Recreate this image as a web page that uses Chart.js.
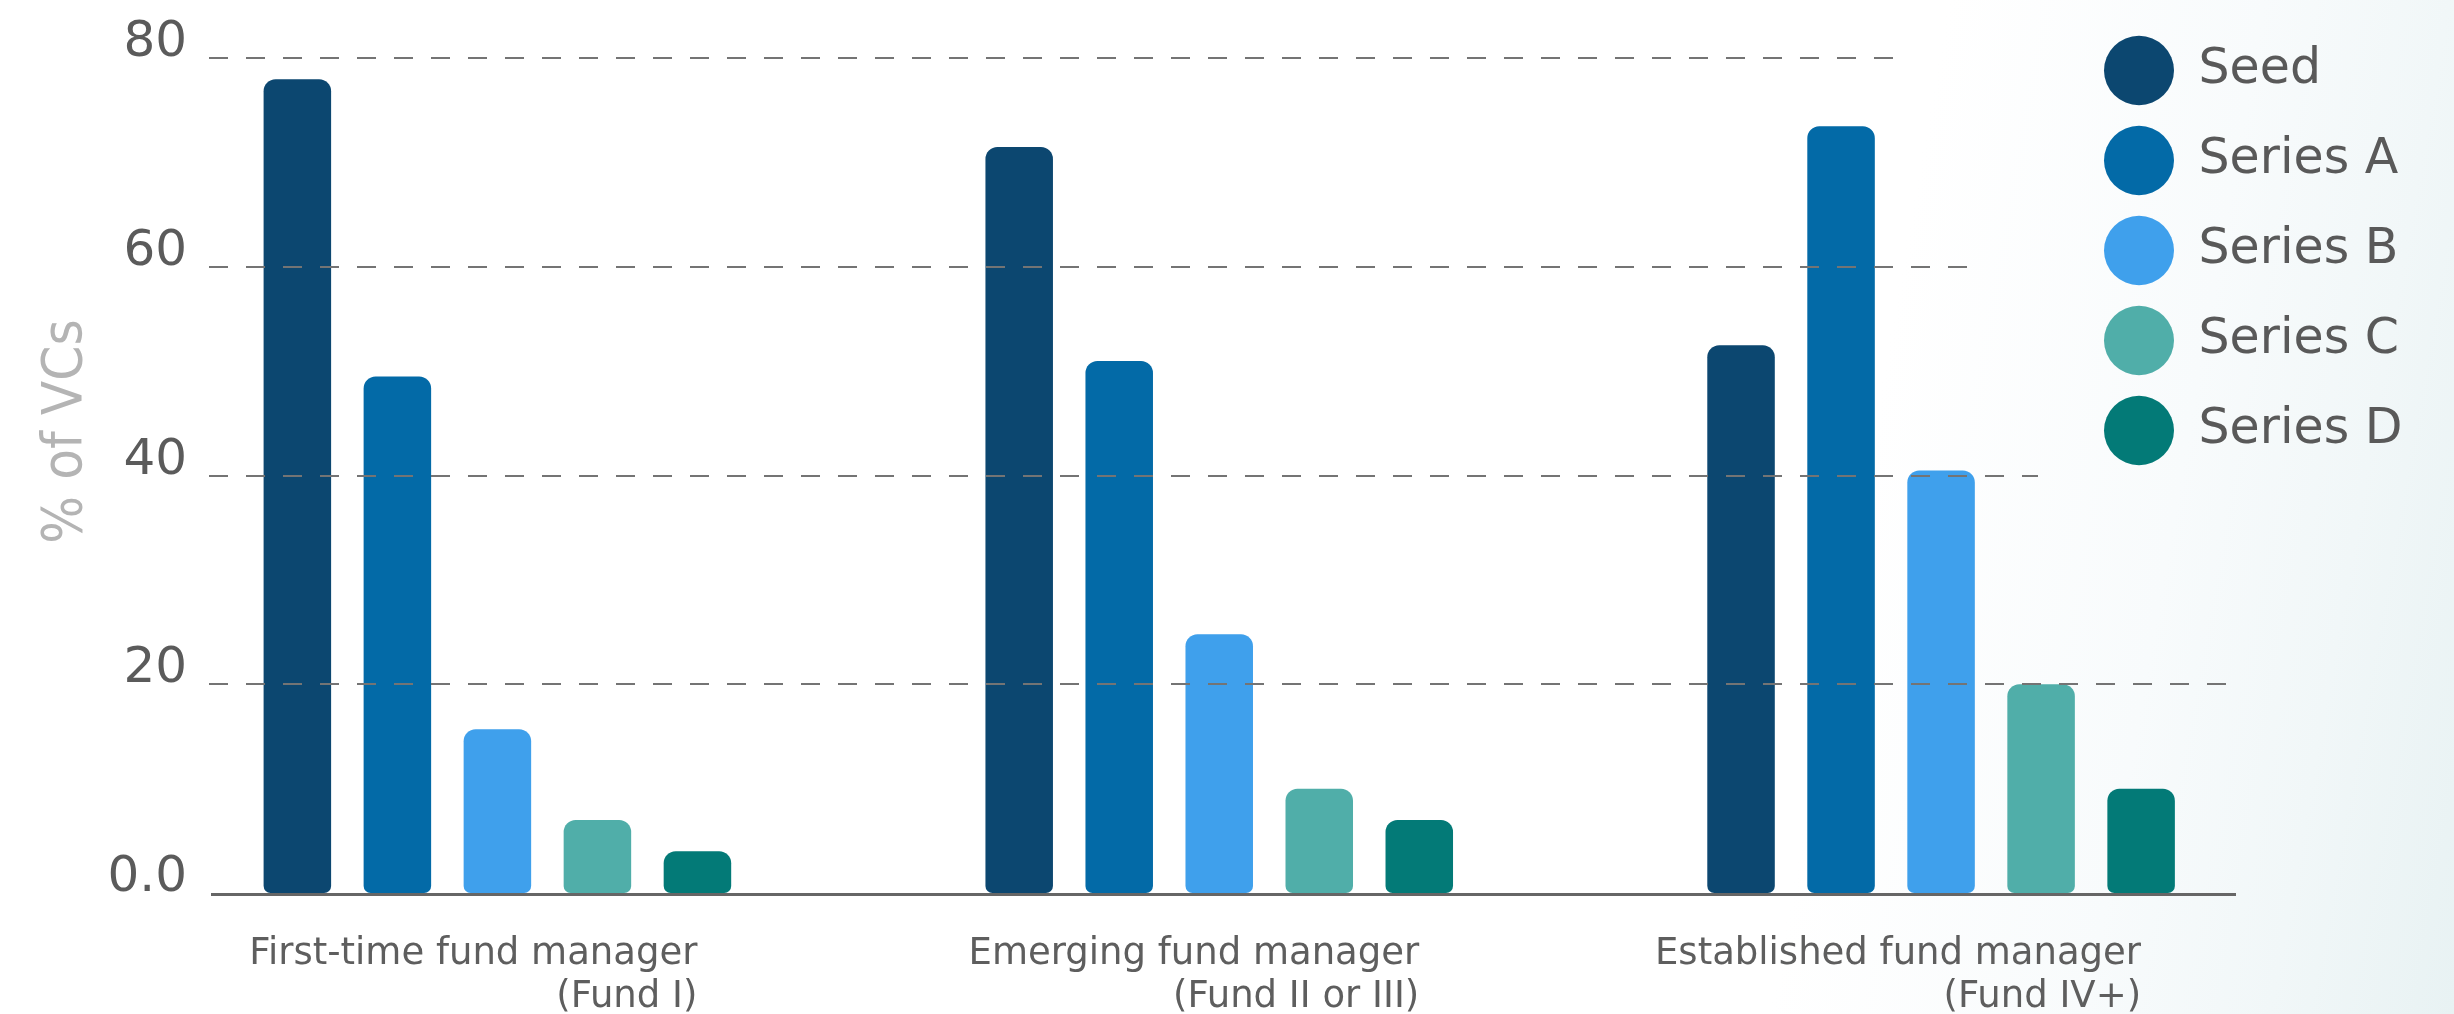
<!DOCTYPE html>
<html>
<head>
<meta charset="utf-8">
<title>% of VCs by fund manager stage</title>
<script src="https://cdn.jsdelivr.net/npm/chart.js@4.4.1/dist/chart.umd.min.js"></script>
<style>
  html, body { margin: 0; padding: 0; }
  body {
    width: 2454px; height: 1014px; overflow: hidden;
    background: linear-gradient(100deg, #ffffff 0%, #ffffff 74%, #f8fbfc 86%, #f1f7f8 93%, #e8f2f3 100%);
  }
  canvas { display: block; }
</style>
</head>
<body>
<canvas id="chart" width="2454" height="1014"></canvas>
<script>
// Fund manager stages (two-line axis labels)
const categories = [
  ['First-time fund manager', '(Fund I)'],
  ['Emerging fund manager', '(Fund II or III)'],
  ['Established fund manager', '(Fund IV+)']
];

// Share of VCs investing at each round, per stage (%)
const seriesNames = ['Seed', 'Series A', 'Series B', 'Series C', 'Series D'];
const seed    = [78, 71.5, 52.5];
const seriesA = [49.5, 51, 73.5];
const seriesB = [15.7, 24.8, 40.5];
const seriesC = [7, 10, 20];
const seriesD = [4, 7, 10];

// Y axis tick values and their printed labels
const yTickValues = [0, 20, 40, 60, 80];
const yTickLabels = ['0.0', '20', '40', '60', '80'];

const seriesColors = ['#0c4770', '#036aa7', '#3fa0ec', '#50aea9', '#037a77'];
const seriesValues = [seed, seriesA, seriesB, seriesC, seriesD];

Chart.defaults.font.family = "'DejaVu Sans', sans-serif";

// Dashed horizontal rules (drawn over the bars, each ending short of the legend)
// plus the solid baseline.
const ruleStartX = 209;
const ruleEndX = { 20: 2237, 40: 2038, 60: 1985, 80: 1908 };
const axisRules = {
  id: 'axisRules',
  afterDatasetsDraw(chart) {
    const { ctx } = chart;
    const y = chart.scales.y;
    ctx.save();
    ctx.lineWidth = 2;
    ctx.strokeStyle = '#747474';
    ctx.setLineDash([19, 18]);
    yTickValues.forEach(v => {
      if (v === 0) return;
      const py = Math.round(y.getPixelForValue(v));
      ctx.beginPath();
      ctx.moveTo(ruleStartX, py);
      ctx.lineTo(ruleEndX[v], py);
      ctx.stroke();
    });
    ctx.setLineDash([]);
    ctx.lineWidth = 3;
    ctx.strokeStyle = '#666666';
    const by = y.getPixelForValue(0) + 1.5;
    ctx.beginPath();
    ctx.moveTo(211, by);
    ctx.lineTo(2236, by);
    ctx.stroke();
    ctx.restore();
  }
};

// Legend sits in the upper-right corner over the plot area; the y-axis title
// is centred a little above the middle of the axis.
const layoutTweaks = {
  id: 'layoutTweaks',
  afterLayout(chart) {
    const lg = chart.legend;
    if (lg) {
      const w = lg.width, h = lg.height;
      lg.left = 2063; lg.right = 2063 + w;
      lg.top = 5; lg.bottom = 5 + h;
    }
    const y = chart.scales.y;
    if (y) y.top -= 30;
  }
};

new Chart(document.getElementById('chart'), {
  type: 'bar',
  data: {
    datasets: seriesNames.map((name, i) => ({
      label: name,
      data: seriesValues[i].map((v, k) => ({ x: k, y: v })),
      backgroundColor: seriesColors[i],
      borderColor: seriesColors[i],
      borderWidth: 0,
      borderSkipped: false,
      borderRadius: { topLeft: 12, topRight: 12, bottomLeft: 7, bottomRight: 7 }
    }))
  },
  options: {
    responsive: false,
    animation: false,
    devicePixelRatio: 1,
    layout: { padding: { left: 31, right: 152, top: 0, bottom: 0 } },
    datasets: { bar: { categoryPercentage: 0.6928, barPercentage: 0.675 } },
    plugins: {
      tooltip: { enabled: false },
      legend: {
        position: 'chartArea',
        align: 'start',
        labels: {
          usePointStyle: true,
          pointStyle: 'circle',
          pointStyleWidth: 70,
          boxHeight: 49.5,
          padding: 41,
          color: '#595959',
          font: { size: 49 }
        }
      }
    },
    scales: {
      x: {
        type: 'linear',
        min: -0.43,
        max: 2.5,
        offset: false,
        grid: { display: false, drawTicks: false },
        border: { display: false },
        ticks: {
          stepSize: 1,
          includeBounds: false,
          align: 'end',
          labelOffset: 200,
          padding: 40,
          maxRotation: 0,
          autoSkip: false,
          color: '#5e5e5e',
          font: { size: 37, lineHeight: '43px' },
          callback: (value) => categories[value] || ''
        },
        afterFit(scale) {
          scale.height = 121;
          scale.paddingLeft = 0;
          scale.paddingRight = 0;
        }
      },
      y: {
        min: 0,
        max: 85.6,
        grid: { display: false, drawTicks: false },
        border: { display: false },
        ticks: {
          stepSize: 20,
          includeBounds: false,
          padding: 0,
          labelOffset: -15,
          color: '#5b5b5b',
          font: { size: 50 },
          callback: (value) => {
            const idx = yTickValues.indexOf(value);
            return idx >= 0 ? yTickLabels[idx] : '';
          }
        },
        title: {
          display: true,
          text: '% of VCs',
          color: '#b4b4b4',
          padding: { top: 7, bottom: 0 },
          font: { family: "'Liberation Sans Narrow', 'DejaVu Sans Condensed', sans-serif", size: 56, weight: 'normal', lineHeight: 1 }
        },
        afterFit(scale) {
          scale.width = 156;
          scale.paddingTop = 0;
          scale.paddingBottom = 0;
        }
      }
    }
  },
  plugins: [axisRules, layoutTweaks]
});
</script>
</body>
</html>
